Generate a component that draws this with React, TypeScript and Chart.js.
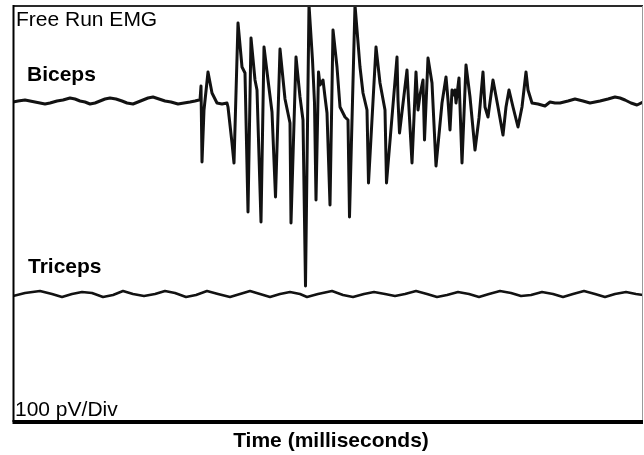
import React, { useEffect, useRef } from "react";
import { Chart, registerables } from "chart.js";

Chart.register(...registerables);

// ---- Data ----
const chartTitle = "Free Run EMG";
const channelNames = ["Biceps", "Triceps"];
const scaleLabel = "100 pV/Div";
const xAxisTitle = "Time (milliseconds)";

// time in ms, amplitude relative to each channel's baseline
const bicepsTimeMs = [
  0, 5, 12, 17, 22, 27, 32, 37, 44, 50, 57, 62, 67, 72, 77, 82, 87, 92, 97, 103,
  109, 114, 120, 125, 130, 135, 140, 146, 152, 158, 165, 171, 177, 182, 186,
  187, 188, 189, 191, 195, 199, 204, 209, 214, 215, 219, 221,
  225, 229, 232, 235, 238, 242, 244, 248, 251, 255, 259, 262.5,
  267, 272, 277, 278, 283, 287, 290, 292.5, 296, 299.5, 301.5, 303,
  305.5, 307, 310, 312, 314, 317, 320, 324, 327, 332, 335, 336.5,
  342, 347, 350, 354, 355.5, 363, 367, 372, 373.5, 384, 385, 386.5,
  394, 395.5, 399, 403, 405, 407, 410, 411.5, 415, 419, 423, 429,
  433, 435, 437, 439, 440.5, 442, 443, 446, 449, 453, 457, 462,
  466, 470, 472, 475, 480, 485, 490, 493, 496, 500, 505, 509,
  513, 515, 519, 525, 532, 537, 542, 547, 555, 562, 570, 577, 582, 587,
  595, 602, 607, 612, 618, 624, 630,
];
const bicepsMicroVolts = [
  -2, -1, 0, -1, -2, -3, -4, -3, -1, 0, 2, 1, -1, -2, -4, -3, -1, 1, 2, 1,
  -1, -3, -4, -2, 0, 2, 3, 1, -1, -2, -4, -3, -2, -1, 0,
  0, 14, -62, -10, 28, 7, -3, -4, -3, -7, -43, -63,
  77, 33, 27, -112, 62, 20, 10, -122, 53, 20, -12, -97,
  51, 1, -23, -123, 43, 3, -20, -186, 95, 40, -3, -100,
  28, 15, 20, 3, -13, -105, 70, 33, -7, -17, -20, -117,
  95, 33, 7, -10, -83, 53, 17, -10, -83, 43, 0, -33,
  30, 0, -63, 28, -10, 5, 20, -40, 42, 17, -66, -3,
  23, 0, -30, 10, 5, 10, -3, 22, -63, 35, 3, -50,
  -18, 28, -7, -17, 20, -7, -35, -7, 10, -7, -27, -7,
  28, 10, -3, -4, -6, -2, -3, -3, -1, 1, -1, -3, -2, -1,
  1, 3, 2, 0, -3, -5, -2,
];

const tricepsTimeMs = [
  0, 12, 27, 39, 49, 59, 69, 79, 90, 100, 110, 120, 131, 142, 152, 162, 173, 183,
  194, 205, 217, 227, 237, 247, 257, 267, 277, 287, 294, 305, 319, 330, 340, 351,
  361, 372, 382, 392, 403, 414, 424, 434, 445, 456, 466, 476, 487, 498, 508, 518,
  529, 540, 550, 560, 571, 582, 592, 602, 613, 623, 630,
];
const tricepsMicroVolts = [
  -1, 2, 4, 1, -2, 1, 3, 2, -2, 0, 4, 1, -1, 1, 4, 2, -2, 0,
  4, 1, -2, 1, 4, 1, -2, 1, 3, 1, -2, 1, 4, 0, -2, 1,
  3, 1, -1, 1, 4, 1, -2, 0, 3, 1, -2, 1, 4, 2, -1, 0,
  3, 1, -2, 1, 4, 1, -2, 1, 3, 1, 0,
];

// display offset of each channel on the screen
const channelOffsets = [322, 127];

const overlayPlugin = {
  id: "emgOverlay",
  afterDatasetsDraw(chart: any) {
    const { ctx, chartArea: a } = chart;
    ctx.save();
    // frame
    ctx.lineCap = "butt";
    ctx.strokeStyle = "#2a2a2a";
    ctx.lineWidth = 2;
    ctx.beginPath();
    ctx.moveTo(a.left, a.top);
    ctx.lineTo(a.right, a.top);
    ctx.stroke();
    ctx.strokeStyle = "#000";
    ctx.lineWidth = 2;
    ctx.beginPath();
    ctx.moveTo(a.left + 0.5, a.top - 1);
    ctx.lineTo(a.left + 0.5, a.bottom);
    ctx.stroke();
    ctx.strokeStyle = "#9a9a9a";
    ctx.lineWidth = 1;
    ctx.beginPath();
    ctx.moveTo(a.right - 0.5, a.top);
    ctx.lineTo(a.right - 0.5, a.bottom);
    ctx.stroke();
    ctx.strokeStyle = "#000";
    ctx.lineWidth = 4;
    ctx.beginPath();
    ctx.moveTo(a.left - 0.5, a.bottom);
    ctx.lineTo(a.right, a.bottom);
    ctx.stroke();

    // texts
    const yScale = chart.scales.y;
    ctx.fillStyle = "#000";
    ctx.textBaseline = "alphabetic";
    ctx.textAlign = "left";
    ctx.font = "21px 'Liberation Sans', Arial, sans-serif";
    ctx.fillText(chartTitle, a.left + 3, a.top + 20);
    ctx.fillText(scaleLabel, a.left + 2, a.bottom - 6);
    ctx.font = "bold 21px 'Liberation Sans', Arial, sans-serif";
    ctx.fillText(channelNames[0], a.left + 14, yScale.getPixelForValue(channelOffsets[0]) - 19);
    ctx.fillText(channelNames[1], a.left + 15, yScale.getPixelForValue(channelOffsets[1]) - 22);
    ctx.textAlign = "center";
    ctx.fillText(xAxisTitle, (a.left + a.right) / 2 + 3, a.bottom + 25);
    ctx.restore();
  },
};

export default function App() {
  const canvasRef = useRef<HTMLCanvasElement | null>(null);

  useEffect(() => {
    const canvas = canvasRef.current;
    if (!canvas) return;
    const biceps = bicepsTimeMs.map((t, i) => ({ x: t, y: channelOffsets[0] + bicepsMicroVolts[i] }));
    const triceps = tricepsTimeMs.map((t, i) => ({ x: t, y: channelOffsets[1] + tricepsMicroVolts[i] }));
    const chart = new Chart(canvas, {
      type: "line",
      data: {
        datasets: [
          {
            label: channelNames[0],
            data: biceps,
            borderColor: "#121212",
            borderWidth: 3,
            pointRadius: 0,
            tension: 0,
            borderJoinStyle: "round",
          },
          {
            label: channelNames[1],
            data: triceps,
            borderColor: "#121212",
            borderWidth: 2.5,
            pointRadius: 0,
            tension: 0,
            borderJoinStyle: "round",
          },
        ],
      },
      options: {
        animation: false,
        responsive: true,
        maintainAspectRatio: false,
        layout: { padding: { left: 13, top: 6, right: 1, bottom: 33 } },
        plugins: { legend: { display: false }, tooltip: { enabled: false }, title: { display: false } },
        scales: {
          x: { type: "linear", min: 0, max: 630, display: false },
          y: { type: "linear", min: 0, max: 416, display: false },
        },
      },
      plugins: [overlayPlugin],
    } as any);
    return () => chart.destroy();
  }, []);

  return (
    <div style={{ position: "fixed", left: 0, top: 0, width: 644, height: 455, background: "#fff" }}>
      <canvas ref={canvasRef} />
    </div>
  );
}
